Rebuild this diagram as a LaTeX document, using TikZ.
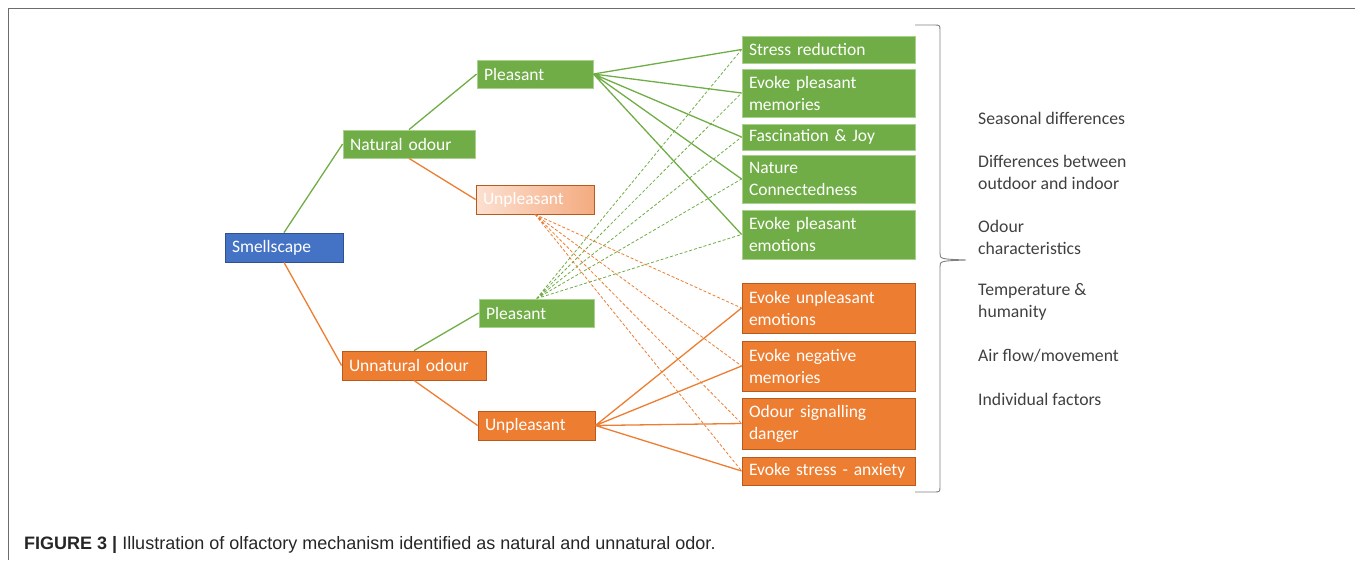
\documentclass[tikz,border=0pt]{standalone}
\usepackage{fontspec}
\setmainfont{Carlito}
\newfontfamily\capfont{Liberation Sans}
\usepackage{tikz}
\usepackage{color}

\definecolor{xgreen}{HTML}{70AD47}
\definecolor{xgreenline}{HTML}{A9D18E}
\definecolor{xorange}{HTML}{ED7D31}
\definecolor{xorangeline}{HTML}{B85A1E}
\definecolor{xblue}{HTML}{4472C4}
\definecolor{xblueline}{HTML}{2F528F}
\definecolor{xpeach}{HTML}{FCE0D0}
\definecolor{xsalmon}{HTML}{F4AB80}
\definecolor{xtext}{HTML}{404040}

\tikzset{
  box/.style={rectangle, inner xsep=7pt, inner ysep=0pt, align=left, text=white,
              font=\fontsize{17.5}{22}\selectfont, line width=0.8pt},
  gbox/.style={box, fill=xgreen, draw=xgreenline},
  obox/.style={box, fill=xorange, draw=xorangeline},
  effect/.style={text width=159pt},
  gline/.style={xgreen, line width=1.3pt},
  oline/.style={xorange, line width=1.3pt},
  gdash/.style={xgreen, line width=0.8pt, dash pattern=on 3pt off 2pt},
  odash/.style={xorange, line width=0.8pt, dash pattern=on 3pt off 2pt},
  factor/.style={anchor=west, align=left, text=xtext, inner sep=0pt,
                 font=\fontsize{17.7}{22}\selectfont}
}

\begin{document}
\begin{tikzpicture}[x=1pt, y=-1pt]
      \useasboundingbox (0,0) rectangle (1355,560);
      % frame
      \draw[gray!85!black, line width=1.2pt] (8.5,560) -- (8.5,8.5) -- (1355,8.5);

      % tree
      \node (smell) at (284,247.5) [box, fill=xblue, draw=xblueline, minimum width=118pt, minimum height=29pt, text width=104pt] {Smellscape};
      \node (nat) at (409,144) [gbox, minimum height=28pt, text width=118pt] {Natural odour};
      \node (unnat) at (414,365.5) [obox, minimum height=29pt, text width=130pt] {Unnatural odour};
      \node (pl1) at (535,74) [gbox, minimum height=28pt, text width=102pt] {Pleasant};
      \node (up1) at (535,199.5) [box, left color=xpeach, right color=xsalmon, draw=xorangeline, minimum height=29pt, text width=104pt] {Unpleasant};
      \node (pl2) at (536.5,313) [gbox, minimum height=28pt, text width=101pt] {Pleasant};
      \node (up2) at (536.5,425.5) [obox, minimum height=29pt, text width=103pt] {Unpleasant};

      % effects
      \node (e1) at (828.5,49.5) [gbox, effect, minimum height=27pt] {Stress reduction};
      \node (e2) at (828.5,93) [gbox, effect, minimum height=48pt] {Evoke pleasant\\memories};
      \node (e3) at (828.5,137) [gbox, effect, minimum height=26pt] {Fascination \& Joy};
      \node (e4) at (828.5,179) [gbox, effect, minimum height=48pt] {Nature\\Connectedness};
      \node (e5) at (828.5,234.5) [gbox, effect, minimum height=49pt] {Evoke pleasant\\emotions};
      \node (e6) at (828.5,308) [obox, effect, minimum height=50pt] {Evoke unpleasant\\emotions};
      \node (e7) at (828.5,366) [obox, effect, minimum height=50pt] {Evoke negative\\memories};
      \node (e8) at (828.5,423.5) [obox, effect, minimum height=51pt] {Odour signalling\\danger};
      \node (e9) at (828.5,471) [obox, effect, minimum height=28pt] {Evoke stress - anxiety};

      \draw[gline] (smell.north) to (nat.west) (nat.north) to (pl1.west) (unnat.north) to (pl2.west);
      \draw[oline] (smell.south) to (unnat.west) (nat.south) to (up1.west) (unnat.south) to (up2.west);

      \draw[gline] (pl1.east) to (e1.west) (pl1.east) to (e2.west) (pl1.east) to (e3.west)
                   (pl1.east) to (e4.west) (pl1.east) to (e5.west);
      \draw[gdash] (pl2.north) to (e1.west) (pl2.north) to (e2.west) (pl2.north) to (e3.west)
                   (pl2.north) to (e4.west) (pl2.north) to (e5.west);
      \draw[odash] (up1.south) to (e6.west) (up1.south) to (e7.west) (up1.south) to (e8.west)
                   (up1.south) to (e9.west);
      \draw[oline] (up2.east) to (e6.west) (up2.east) to (e7.west) (up2.east) to (e8.west)
                   (up2.east) to (e9.west);

      % brace
      \coordinate (btop) at (915,25);
      \coordinate (btip) at (966,260);
      \coordinate (bbot) at (915,492);
      \draw[gray, line width=0.9pt] (btop) -- (934,25) .. controls (940,25) .. (940,31) -- (940,253)
            .. controls (940,259) .. (btip) .. controls (940,261) .. (940,267) -- (940,486)
            .. controls (940,492) .. (934,492) -- (bbot);

      % factors
      \node (f1) at (978,118) [factor] {Seasonal differences};
      \node (f2) at (978,172) [factor] {Differences between\\outdoor and indoor};
      \node (f3) at (978,237) [factor] {Odour\\characteristics};
      \node (f4) at (978,302) [factor] {Temperature \&\\humanity};
      \node (f5) at (978,356) [factor] {Air flow/movement};
      \node (f6) at (978,399) [factor] {Individual factors};

      % caption
      \node (cap) at (24,549) [anchor=base west, inner sep=0pt, font=\capfont\fontsize{18}{20}\selectfont, text=black!85]
            {\textbf{FIGURE 3 |} Illustration of olfactory mechanism identified as natural and unnatural odor.};
    \end{tikzpicture}
\end{document}
